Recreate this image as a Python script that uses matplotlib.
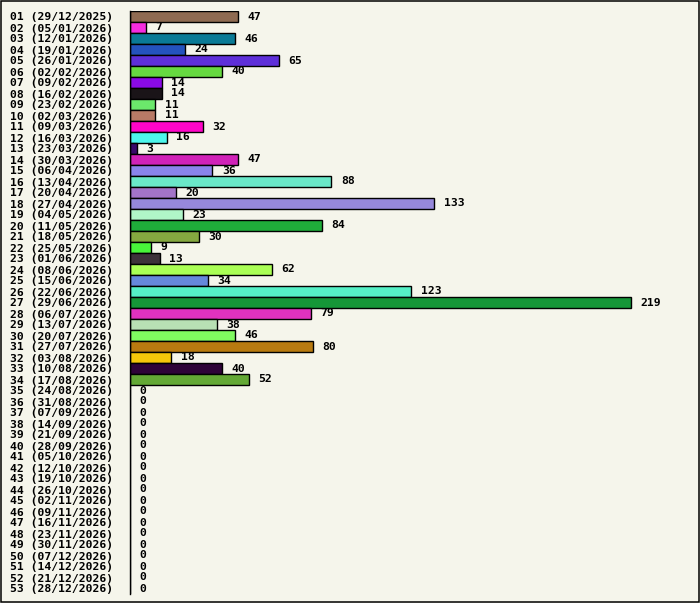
import matplotlib
matplotlib.use("Agg")
import matplotlib.pyplot as plt
from matplotlib.patches import Rectangle

# semaines et valeurs
weeks = ["%02d" % n for n in range(1, 54)]
dates = [
    "29/12/2025", "05/01/2026", "12/01/2026", "19/01/2026", "26/01/2026",
    "02/02/2026", "09/02/2026", "16/02/2026", "23/02/2026", "02/03/2026",
    "09/03/2026", "16/03/2026", "23/03/2026", "30/03/2026", "06/04/2026",
    "13/04/2026", "20/04/2026", "27/04/2026", "04/05/2026", "11/05/2026",
    "18/05/2026", "25/05/2026", "01/06/2026", "08/06/2026", "15/06/2026",
    "22/06/2026", "29/06/2026", "06/07/2026", "13/07/2026", "20/07/2026",
    "27/07/2026", "03/08/2026", "10/08/2026", "17/08/2026", "24/08/2026",
    "31/08/2026", "07/09/2026", "14/09/2026", "21/09/2026", "28/09/2026",
    "05/10/2026", "12/10/2026", "19/10/2026", "26/10/2026", "02/11/2026",
    "09/11/2026", "16/11/2026", "23/11/2026", "30/11/2026", "07/12/2026",
    "14/12/2026", "21/12/2026", "28/12/2026",
]
values = [
    47, 7, 46, 24, 65, 40, 14, 14, 11, 11,
    32, 16, 3, 47, 36, 88, 20, 133, 23, 84,
    30, 9, 13, 62, 34, 123, 219, 79, 38, 46,
    80, 18, 40, 52,
] + [0] * 19
colors = [
    "#8f6b52", "#f52ce0", "#0a7a96", "#2453be", "#5e2fd9",
    "#66d940", "#8a0ae6", "#1a1418", "#6be86b", "#b87a66",
    "#ff05c8", "#4df5eb", "#3a0a6b", "#d022b8", "#8a84eb",
    "#6ae8c8", "#a374c8", "#9688db", "#b0f5c8", "#1fad3a",
    "#85a840", "#48f53a", "#3d323a", "#aaff55", "#6688db",
    "#55f0c6", "#159638", "#e032bf", "#b8e0b4", "#80fa60",
    "#b87a10", "#f5c70a", "#2e0338", "#63a835",
] + ["#000000"] * 19

labels = ["%s (%s)" % (w, d) for w, d in zip(weeks, dates)]
bg = "#f5f5eb"
W, H = 700, 603

fig = plt.figure(figsize=(W / 100, H / 100), dpi=100, facecolor=bg)
ax = fig.add_axes([130 / W, (H - 594) / H, 560 / W, 583 / H])
ax.set_facecolor(bg)

ypos = list(range(len(values)))
ax.barh(ypos, values, height=0.97, color=colors, edgecolor="black", linewidth=1)

font = dict(family="DejaVu Sans Mono", weight="bold", size=8.2)
for y, v in zip(ypos, values):
    ax.annotate(str(v), (v, y), xytext=(6.8, 0), textcoords="offset points",
                ha="left", va="center", **font)

ax.set_xlim(0, 244.8)
ax.set_ylim(len(values) - 0.5, -0.5)
ax.set_xticks([])
ax.set_yticks(ypos)
ax.set_yticklabels(labels, ha="left", **font)
ax.tick_params(axis="y", length=0, pad=86.4)
for s in ["top", "right", "bottom"]:
    ax.spines[s].set_visible(False)
ax.spines["left"].set_linewidth(1)

# cadre autour de la figure
fig.patches.append(Rectangle((0.8 / W, 0.8 / H), (W - 1.9) / W, (H - 1.9) / H,
                             transform=fig.transFigure, fill=False,
                             edgecolor="black", linewidth=1.1))

fig.savefig("out.png", dpi=100, facecolor=bg)
